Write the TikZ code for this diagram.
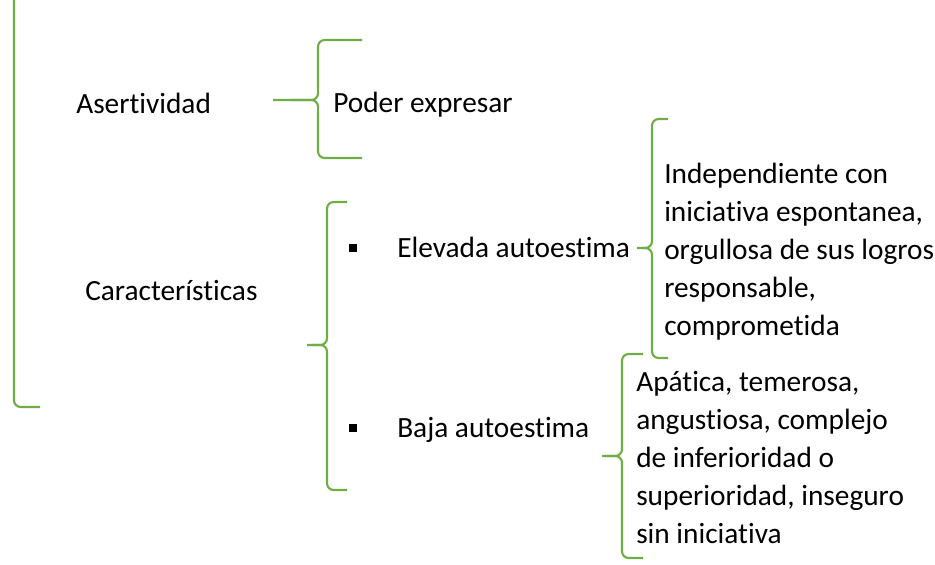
\documentclass[tikz,border=0pt]{standalone}
\usepackage{fontspec}
\setmainfont[Ligatures=NoCommon]{Carlito}
\usetikzlibrary{positioning}
\definecolor{verde}{HTML}{70AD47}

\begin{document}
\begin{tikzpicture}[x=0.75pt,y=-0.75pt,
    llave/.style={draw=verde,line width=1.6pt,rounded corners=5pt},
    texto/.style={inner sep=0pt,anchor=base west,align=left,
        font=\fontsize{22}{28.4}\selectfont},
    bala/.style={fill=black,inner sep=0pt,minimum size=6pt}]

    \useasboundingbox (0,0) rectangle (935,564);

    % corchete grande
    \draw[llave] (40,-6) -- (14,-6) -- (14,407) -- (40,407);

    \node[texto] (asert) at (76,113) {Asertividad};
    \node[texto] (carac) at (85,300) {Características};

    % llave de asertividad
    \draw[llave] (362,40) -- (318,40) -- (318,100) -- (273,100);
    \draw[llave] (362,158) -- (318,158) -- (318,100) -- (290,100);
    \node[texto] (poder) at (333,112) {Poder expresar};

    % llave de caracteristicas
    \draw[llave] (347,202) -- (327,202) -- (327,345) -- (307,345);
    \draw[llave] (347,490) -- (327,490) -- (327,345) -- (312,345);

    \node[bala] (b1) at (353,248) {};
    \node[bala] (b2) at (353,428) {};
    \node[texto] (elevada) at (397,257) {Elevada autoestima};
    \node[texto] (baja) at (397,437) {Baja autoestima};

    % elevada (base = ultima linea)
    \draw[llave] (668,119) -- (652,119) -- (652,248) -- (637,248);
    \draw[llave] (668,358) -- (652,358) -- (652,248) -- (642,248);
    \node[texto] (rasgos1) at (664,335) {Independiente con\\
        iniciativa espontanea,\\ orgullosa de sus logros\\
        responsable,\\ comprometida};

    % baja
    \draw[llave] (643,354) -- (622,354) -- (622,456) -- (602,456);
    \draw[llave] (643,558) -- (622,558) -- (622,456) -- (607,456);
    \node[texto] (rasgos2) at (636,543) {Apática, temerosa,\\
        angustiosa, complejo\\ de inferioridad o\\
        superioridad, inseguro\\ sin iniciativa};

\end{tikzpicture}
\end{document}
